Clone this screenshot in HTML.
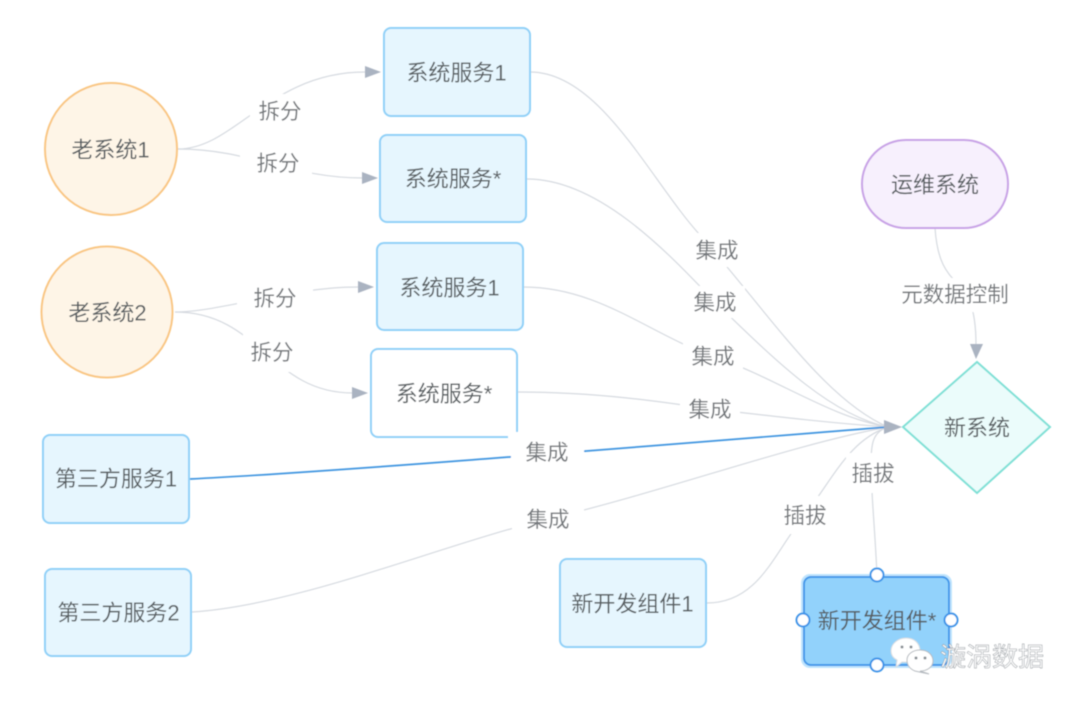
<!DOCTYPE html>
<html>
<head>
<meta charset="utf-8">
<style>
html,body{margin:0;padding:0;background:#fff;width:1080px;height:705px;overflow:hidden}
svg{display:block}
text{font-family:"Liberation Sans","Noto Sans CJK SC",sans-serif;font-size:22px;fill:#595e62;text-anchor:middle;dominant-baseline:central}
.e{fill:none;stroke:#d6dae0;stroke-width:1.2}
.box{fill:#e6f6fe;stroke:#8fd0f8;stroke-width:2}
.a{fill:#aab3c1}
.l{fill:#74787c;font-size:21.5px}
.h{fill:#fff;stroke:#3a94e8;stroke-width:2}
</style>
</head>
<body>
<svg width="1080" height="705" viewBox="0 0 1080 705" xmlns="http://www.w3.org/2000/svg">
<defs><filter id="b" x="-5%" y="-5%" width="110%" height="110%"><feGaussianBlur stdDeviation="0.4"/></filter></defs>
<g filter="url(#b)">
<!-- connectors -->
<path class="e" d="M178 149C235 149 270 72 365 72"/>
<path class="e" d="M178 149C250 149 290 178 363 178"/>
<path class="e" d="M175 312C220 312 290 287 358 287"/>
<path class="e" d="M175 312C260 312 270 393 353 393"/>
<path class="e" d="M530 72C600 72 650 180 700 235C770 315 825 400 888 427"/>
<path class="e" d="M527 179C600 179 670 255 715 302C775 360 830 415 888 427"/>
<path class="e" d="M523 287C600 287 650 335 713 356C780 380 830 417 888 427"/>
<path class="e" d="M518 392C600 392 670 403 710 409C780 417 830 423 888 427"/>
<path class="e" d="M192 612C300 605 440 545 548 519C670 490 790 445 888 427"/>
<path class="e" d="M707 603C760 603 775 550 805 515C835 475 850 440 888 427"/>
<path class="e" d="M877 575C875 530 871 490 871 465C871 445 872 432 888 427"/>
<path class="e" d="M935 228C940 300 976 265 976 345"/>
<path d="M190 479C330 472 600 450 888 427" fill="none" stroke="#3f95e0" stroke-width="1.7"/>
<!-- arrowheads -->
<path class="a" d="M365 66L381 72L365 78Z"/>
<path class="a" d="M362 172L378 178L362 184Z"/>
<path class="a" d="M358 281L374 287L358 293Z"/>
<path class="a" d="M352 387L368 393L352 399Z"/>
<path class="a" d="M884 420L902 427L884 434Z"/>
<path class="a" d="M970 344L976 359L983 344Z"/>
<!-- label backgrounds -->
<rect x="250" y="94" width="60" height="36" fill="#fff"/>
<rect x="240" y="153" width="72" height="26" fill="#fff"/>
<rect x="237" y="286" width="76" height="26" fill="#fff"/>
<rect x="243" y="334" width="56" height="38" fill="#fff"/>
<rect x="686" y="233" width="62" height="34" fill="#fff"/>
<rect x="685" y="286" width="60" height="32" fill="#fff"/>
<rect x="683" y="340" width="60" height="32" fill="#fff"/>
<rect x="680" y="394" width="60" height="30" fill="#fff"/>
<rect x="511" y="432" width="73" height="40" fill="#fff"/>
<rect x="512" y="500" width="72" height="38" fill="#fff"/>
<rect x="775" y="496" width="60" height="38" fill="#fff"/>
<rect x="846" y="453" width="54" height="40" fill="#fff"/>
<rect x="893" y="278" width="124" height="34" fill="#fff"/>
<!-- nodes -->
<circle cx="111" cy="149" r="66" fill="#fef5e7" stroke="#f9c682" stroke-width="2"/>
<circle cx="107" cy="312" r="65.5" fill="#fef5e7" stroke="#f9c682" stroke-width="2"/>
<rect class="box" x="384" y="28" width="146" height="88" rx="7"/>
<rect class="box" x="380" y="135" width="146" height="87" rx="7"/>
<rect class="box" x="377" y="243" width="146" height="87" rx="7"/>
<path d="M508 437H378a7 7 0 0 1-7-7V356a7 7 0 0 1 7-7h132a7 7 0 0 1 7 7V432" fill="#fff" stroke="#8fd0f8" stroke-width="2"/>
<rect class="box" x="43" y="435" width="146" height="88" rx="7"/>
<rect class="box" x="45" y="569" width="146" height="87" rx="7"/>
<rect class="box" x="560" y="559" width="146" height="88" rx="7"/>
<rect x="862" y="140" width="146" height="88" rx="44" fill="#f7f0fd" stroke="#c8a2e6" stroke-width="2"/>
<path d="M903 427L977 362L1050 427L977 493Z" fill="#ebfcfb" stroke="#7fe0d6" stroke-width="2"/>
<rect x="801" y="574" width="151" height="94" rx="9" fill="#bfe4fd"/>
<rect x="804" y="577" width="145" height="88" rx="7" fill="#92d2fb" stroke="#3f98ea" stroke-width="2"/>
<!-- text -->
<text x="110.500" y="150">老系统1</text>
<text x="107.500" y="313">老系统2</text>
<text x="456.500" y="73">系统服务1</text>
<text x="453" y="179">系统服务*</text>
<text x="449.500" y="288">系统服务1</text>
<text x="444" y="394">系统服务*</text>
<text x="116" y="479">第三方服务1</text>
<text x="118.500" y="613">第三方服务2</text>
<text x="632.500" y="604">新开发组件1</text>
<text x="877" y="621">新开发组件*</text>
<text x="935" y="185">运维系统</text>
<text x="977" y="428">新系统</text>
<text class="l" x="280" y="112">拆分</text>
<text class="l" x="278" y="164">拆分</text>
<text class="l" x="275" y="299">拆分</text>
<text class="l" x="272" y="353">拆分</text>
<text class="l" x="717" y="251">集成</text>
<text class="l" x="715" y="303">集成</text>
<text class="l" x="713" y="357">集成</text>
<text class="l" x="710" y="410">集成</text>
<text class="l" x="547" y="453">集成</text>
<text class="l" x="548" y="520">集成</text>
<text class="l" x="805" y="516">插拔</text>
<text class="l" x="873" y="474">插拔</text>
<text class="l" x="955" y="295">元数据控制</text>
<!-- handles -->
<circle class="h" cx="877" cy="575" r="6.5"/>
<circle class="h" cx="803" cy="620" r="6.5"/>
<circle class="h" cx="951" cy="620" r="6.5"/>
<circle class="h" cx="877" cy="665" r="6.5"/>
<!-- watermark -->
<path d="M891 651C891 643 899 638 906 638C914 638 920 643 920 651C920 659 912 663 902 662L896 667L897 660C893 658 891 655 891 651Z" fill="#fff" stroke="#d9dde0" stroke-width="1"/>
<path d="M907 660C907 654 913 650 920 650C928 650 933 655 933 661C933 667 927 671 920 671L929 674L915 671C910 669 907 665 907 660Z" fill="#fff" stroke="#b5babf" stroke-width="1"/>
<circle cx="902" cy="647" r="1.5" fill="#8a9096"/><circle cx="911" cy="647" r="1.5" fill="#8a9096"/>
<circle cx="916" cy="658" r="1.5" fill="#8a9096"/><circle cx="925" cy="658" r="1.5" fill="#8a9096"/>
<text x="992" y="657" style="font-size:26px;fill:#fff;stroke:#8f959b;stroke-width:0.5px">漩涡数据</text>
</g>
</svg>
</body>
</html>
